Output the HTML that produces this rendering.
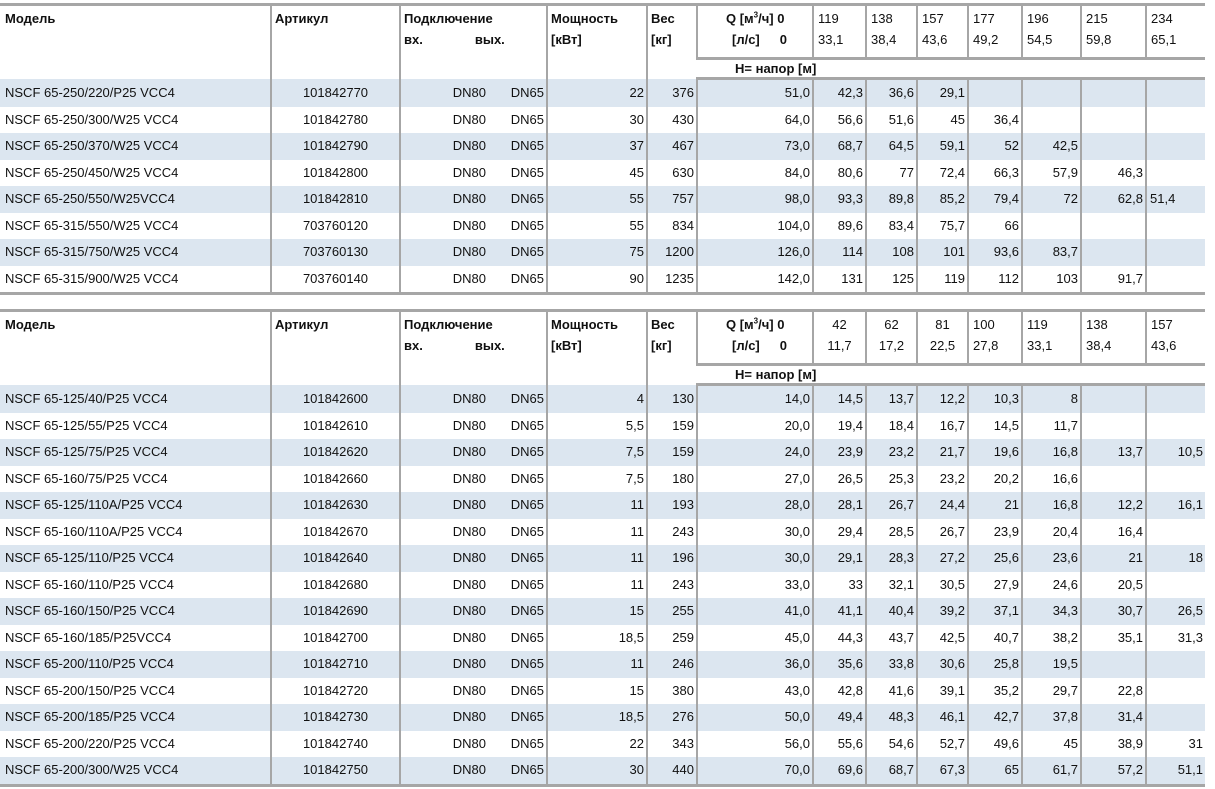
<!DOCTYPE html>
<html><head><meta charset="utf-8"><style>
body{margin:0;width:1215px;height:789px;background:#fff;position:relative;overflow:hidden}
table{position:absolute;left:0;border-collapse:collapse;table-layout:fixed;width:1205px;font:13px "Liberation Sans","DejaVu Sans",sans-serif;color:#111;border-top:3px solid #a6a6a6;border-bottom:3px solid #a6a6a6}
td{padding:0 2px 0 0;border-left:2px solid #a6a6a6;white-space:nowrap;overflow:hidden;text-align:right;height:26.5px;line-height:26px}
td:first-child{border-left:none;text-align:left;padding-left:5px}
td.c{text-align:center;padding:0}
tr.s td{background:#dce6f0}
thead td{vertical-align:top;font-weight:bold;text-align:left;padding:2px 0 0 3px;line-height:21px;height:auto}
thead td.n{font-weight:normal;padding-left:4px}
thead td.nc{font-weight:normal;text-align:center;padding-left:0}
thead tr.h td{border-top:3px solid #a6a6a6;border-bottom:3px solid #a6a6a6;height:17px;padding:0 0 0 38px;line-height:17px}
thead tr.r1 td{height:49px}
.a{display:inline-block;width:85px;text-align:right}
.b{display:inline-block;width:58px;text-align:right}
sup{font-size:8px;line-height:0}
</style></head><body>

<table style="top:3px">
<colgroup><col style="width:271px"><col style="width:129px"><col style="width:147px"><col style="width:100px"><col style="width:50px"><col style="width:116px"><col style="width:53px"><col style="width:51px"><col style="width:51px"><col style="width:54px"><col style="width:59px"><col style="width:65px"><col style="width:59px"></colgroup>
<thead>
<tr class="r1"><td rowspan="2" style="padding-left:5px">Модель</td><td rowspan="2">Артикул</td><td rowspan="2">Подключение<br>вх.<span style="display:inline-block;width:52px"></span>вых.</td><td rowspan="2">Мощность<br>[кВт]</td><td rowspan="2">Вес<br>[кг]</td><td style="padding-left:28px">Q [м<sup>3</sup>/ч] 0<br><span style="padding-left:6px">[л/с]</span><span style="display:inline-block;width:20px"></span>0</td><td class="n">119<br>33,1</td><td class="n">138<br>38,4</td><td class="n">157<br>43,6</td><td class="n">177<br>49,2</td><td class="n">196<br>54,5</td><td class="n">215<br>59,8</td><td class="n">234<br>65,1</td></tr>
<tr class="h"><td colspan="8">H= напор [м]</td></tr>
</thead>
<tbody>
<tr class="s"><td>NSCF 65-250/220/P25 VCC4</td><td class="c">101842770</td><td><span class="a">DN80</span><span class="b">DN65</span></td><td>22</td><td>376</td><td>51,0</td><td>42,3</td><td>36,6</td><td>29,1</td><td></td><td></td><td></td><td></td></tr>
<tr><td>NSCF 65-250/300/W25 VCC4</td><td class="c">101842780</td><td><span class="a">DN80</span><span class="b">DN65</span></td><td>30</td><td>430</td><td>64,0</td><td>56,6</td><td>51,6</td><td>45</td><td>36,4</td><td></td><td></td><td></td></tr>
<tr class="s"><td>NSCF 65-250/370/W25 VCC4</td><td class="c">101842790</td><td><span class="a">DN80</span><span class="b">DN65</span></td><td>37</td><td>467</td><td>73,0</td><td>68,7</td><td>64,5</td><td>59,1</td><td>52</td><td>42,5</td><td></td><td></td></tr>
<tr><td>NSCF 65-250/450/W25 VCC4</td><td class="c">101842800</td><td><span class="a">DN80</span><span class="b">DN65</span></td><td>45</td><td>630</td><td>84,0</td><td>80,6</td><td>77</td><td>72,4</td><td>66,3</td><td>57,9</td><td>46,3</td><td></td></tr>
<tr class="s"><td>NSCF 65-250/550/W25VCC4</td><td class="c">101842810</td><td><span class="a">DN80</span><span class="b">DN65</span></td><td>55</td><td>757</td><td>98,0</td><td>93,3</td><td>89,8</td><td>85,2</td><td>79,4</td><td>72</td><td>62,8</td><td style="text-align:left;padding-left:3px">51,4</td></tr>
<tr><td>NSCF 65-315/550/W25 VCC4</td><td class="c">703760120</td><td><span class="a">DN80</span><span class="b">DN65</span></td><td>55</td><td>834</td><td>104,0</td><td>89,6</td><td>83,4</td><td>75,7</td><td>66</td><td></td><td></td><td></td></tr>
<tr class="s"><td>NSCF 65-315/750/W25 VCC4</td><td class="c">703760130</td><td><span class="a">DN80</span><span class="b">DN65</span></td><td>75</td><td>1200</td><td>126,0</td><td>114</td><td>108</td><td>101</td><td>93,6</td><td>83,7</td><td></td><td></td></tr>
<tr><td>NSCF 65-315/900/W25 VCC4</td><td class="c">703760140</td><td><span class="a">DN80</span><span class="b">DN65</span></td><td>90</td><td>1235</td><td>142,0</td><td>131</td><td>125</td><td>119</td><td>112</td><td>103</td><td>91,7</td><td></td></tr>
</tbody></table>

<table style="top:309px">
<colgroup><col style="width:271px"><col style="width:129px"><col style="width:147px"><col style="width:100px"><col style="width:50px"><col style="width:116px"><col style="width:53px"><col style="width:51px"><col style="width:51px"><col style="width:54px"><col style="width:59px"><col style="width:65px"><col style="width:59px"></colgroup>
<thead>
<tr class="r1"><td rowspan="2" style="padding-left:5px">Модель</td><td rowspan="2">Артикул</td><td rowspan="2">Подключение<br>вх.<span style="display:inline-block;width:52px"></span>вых.</td><td rowspan="2">Мощность<br>[кВт]</td><td rowspan="2">Вес<br>[кг]</td><td style="padding-left:28px">Q [м<sup>3</sup>/ч] 0<br><span style="padding-left:6px">[л/с]</span><span style="display:inline-block;width:20px"></span>0</td><td class="nc">42<br>11,7</td><td class="nc">62<br>17,2</td><td class="nc">81<br>22,5</td><td class="n">100<br>27,8</td><td class="n">119<br>33,1</td><td class="n">138<br>38,4</td><td class="n">157<br>43,6</td></tr>
<tr class="h"><td colspan="8">H= напор [м]</td></tr>
</thead>
<tbody>
<tr class="s"><td>NSCF 65-125/40/P25 VCC4</td><td class="c">101842600</td><td><span class="a">DN80</span><span class="b">DN65</span></td><td>4</td><td>130</td><td>14,0</td><td>14,5</td><td>13,7</td><td>12,2</td><td>10,3</td><td>8</td><td></td><td></td></tr>
<tr><td>NSCF 65-125/55/P25 VCC4</td><td class="c">101842610</td><td><span class="a">DN80</span><span class="b">DN65</span></td><td>5,5</td><td>159</td><td>20,0</td><td>19,4</td><td>18,4</td><td>16,7</td><td>14,5</td><td>11,7</td><td></td><td></td></tr>
<tr class="s"><td>NSCF 65-125/75/P25 VCC4</td><td class="c">101842620</td><td><span class="a">DN80</span><span class="b">DN65</span></td><td>7,5</td><td>159</td><td>24,0</td><td>23,9</td><td>23,2</td><td>21,7</td><td>19,6</td><td>16,8</td><td>13,7</td><td>10,5</td></tr>
<tr><td>NSCF 65-160/75/P25 VCC4</td><td class="c">101842660</td><td><span class="a">DN80</span><span class="b">DN65</span></td><td>7,5</td><td>180</td><td>27,0</td><td>26,5</td><td>25,3</td><td>23,2</td><td>20,2</td><td>16,6</td><td></td><td></td></tr>
<tr class="s"><td>NSCF 65-125/110A/P25 VCC4</td><td class="c">101842630</td><td><span class="a">DN80</span><span class="b">DN65</span></td><td>11</td><td>193</td><td>28,0</td><td>28,1</td><td>26,7</td><td>24,4</td><td>21</td><td>16,8</td><td>12,2</td><td>16,1</td></tr>
<tr><td>NSCF 65-160/110A/P25 VCC4</td><td class="c">101842670</td><td><span class="a">DN80</span><span class="b">DN65</span></td><td>11</td><td>243</td><td>30,0</td><td>29,4</td><td>28,5</td><td>26,7</td><td>23,9</td><td>20,4</td><td>16,4</td><td></td></tr>
<tr class="s"><td>NSCF 65-125/110/P25 VCC4</td><td class="c">101842640</td><td><span class="a">DN80</span><span class="b">DN65</span></td><td>11</td><td>196</td><td>30,0</td><td>29,1</td><td>28,3</td><td>27,2</td><td>25,6</td><td>23,6</td><td>21</td><td>18</td></tr>
<tr><td>NSCF 65-160/110/P25 VCC4</td><td class="c">101842680</td><td><span class="a">DN80</span><span class="b">DN65</span></td><td>11</td><td>243</td><td>33,0</td><td>33</td><td>32,1</td><td>30,5</td><td>27,9</td><td>24,6</td><td>20,5</td><td></td></tr>
<tr class="s"><td>NSCF 65-160/150/P25 VCC4</td><td class="c">101842690</td><td><span class="a">DN80</span><span class="b">DN65</span></td><td>15</td><td>255</td><td>41,0</td><td>41,1</td><td>40,4</td><td>39,2</td><td>37,1</td><td>34,3</td><td>30,7</td><td>26,5</td></tr>
<tr><td>NSCF 65-160/185/P25VCC4</td><td class="c">101842700</td><td><span class="a">DN80</span><span class="b">DN65</span></td><td>18,5</td><td>259</td><td>45,0</td><td>44,3</td><td>43,7</td><td>42,5</td><td>40,7</td><td>38,2</td><td>35,1</td><td>31,3</td></tr>
<tr class="s"><td>NSCF 65-200/110/P25 VCC4</td><td class="c">101842710</td><td><span class="a">DN80</span><span class="b">DN65</span></td><td>11</td><td>246</td><td>36,0</td><td>35,6</td><td>33,8</td><td>30,6</td><td>25,8</td><td>19,5</td><td></td><td></td></tr>
<tr><td>NSCF 65-200/150/P25 VCC4</td><td class="c">101842720</td><td><span class="a">DN80</span><span class="b">DN65</span></td><td>15</td><td>380</td><td>43,0</td><td>42,8</td><td>41,6</td><td>39,1</td><td>35,2</td><td>29,7</td><td>22,8</td><td></td></tr>
<tr class="s"><td>NSCF 65-200/185/P25 VCC4</td><td class="c">101842730</td><td><span class="a">DN80</span><span class="b">DN65</span></td><td>18,5</td><td>276</td><td>50,0</td><td>49,4</td><td>48,3</td><td>46,1</td><td>42,7</td><td>37,8</td><td>31,4</td><td></td></tr>
<tr><td>NSCF 65-200/220/P25 VCC4</td><td class="c">101842740</td><td><span class="a">DN80</span><span class="b">DN65</span></td><td>22</td><td>343</td><td>56,0</td><td>55,6</td><td>54,6</td><td>52,7</td><td>49,6</td><td>45</td><td>38,9</td><td>31</td></tr>
<tr class="s"><td>NSCF 65-200/300/W25 VCC4</td><td class="c">101842750</td><td><span class="a">DN80</span><span class="b">DN65</span></td><td>30</td><td>440</td><td>70,0</td><td>69,6</td><td>68,7</td><td>67,3</td><td>65</td><td>61,7</td><td>57,2</td><td>51,1</td></tr>
</tbody></table>
</body></html>
